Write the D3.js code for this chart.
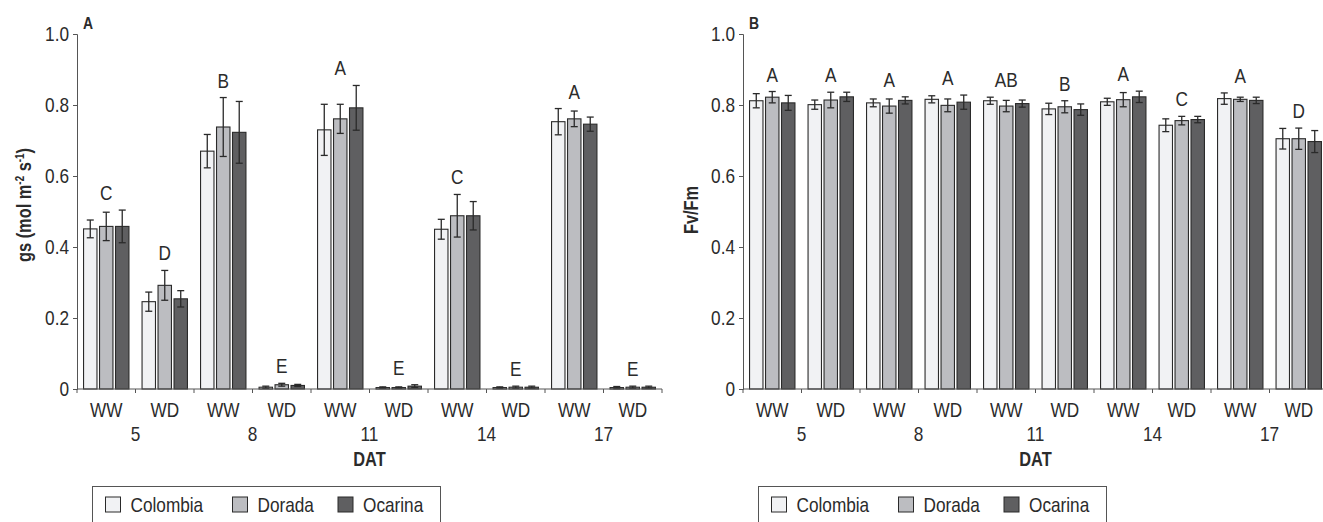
<!DOCTYPE html>
<html lang="en">
<head>
  <meta charset="UTF-8">
  <title>gs and Fv/Fm</title>
  <script src="https://d3js.org/d3.v7.min.js"></script>
  <style>
    body { margin: 0; background: #fff; }
    svg text { font-family: "Liberation Sans", Arial, sans-serif; fill: #2b2b2b; }
    .bold { font-weight: bold; }
  </style>
</head>
<body>
  <svg id="chart" width="1323" height="522"></svg>
  <script>
    // categories
    const days = [5, 8, 11, 14, 17];
    const treatments = ["WW", "WD"];
    const cultivars = ["Colombia", "Dorada", "Ocarina"];
    const yTicks = [0, 0.2, 0.4, 0.6, 0.8, 1.0];

    // panel A: gs (mol m-2 s-1), one value per day x treatment
    const gsColombia = [0.451, 0.246, 0.670, 0.005, 0.730, 0.004, 0.450, 0.004, 0.753, 0.004];
    const gsDorada   = [0.458, 0.292, 0.738, 0.012, 0.761, 0.004, 0.488, 0.005, 0.761, 0.005];
    const gsOcarina  = [0.458, 0.254, 0.723, 0.010, 0.792, 0.008, 0.488, 0.005, 0.746, 0.005];
    const gsErrColombia = [0.025, 0.027, 0.047, 0.003, 0.072, 0.002, 0.028, 0.002, 0.037, 0.003];
    const gsErrDorada   = [0.040, 0.042, 0.083, 0.004, 0.041, 0.002, 0.060, 0.003, 0.022, 0.003];
    const gsErrOcarina  = [0.046, 0.023, 0.087, 0.003, 0.063, 0.004, 0.040, 0.003, 0.020, 0.003];
    const gsLetters = ["C", "D", "B", "E", "A", "E", "C", "E", "A", "E"];

    // panel B: Fv/Fm
    const fvColombia = [0.812, 0.801, 0.806, 0.816, 0.812, 0.789, 0.809, 0.743, 0.818, 0.705];
    const fvDorada   = [0.822, 0.814, 0.797, 0.799, 0.797, 0.795, 0.815, 0.756, 0.816, 0.705];
    const fvOcarina  = [0.806, 0.823, 0.813, 0.808, 0.804, 0.787, 0.823, 0.759, 0.813, 0.697];
    const fvErrColombia = [0.020, 0.013, 0.011, 0.010, 0.010, 0.016, 0.010, 0.018, 0.016, 0.029];
    const fvErrDorada   = [0.016, 0.022, 0.020, 0.018, 0.016, 0.017, 0.020, 0.012, 0.006, 0.030];
    const fvErrOcarina  = [0.021, 0.013, 0.010, 0.020, 0.010, 0.016, 0.016, 0.009, 0.009, 0.031];
    const fvLetters = ["A", "A", "A", "A", "AB", "B", "A", "C", "A", "D"];

    const colors = { Colombia: "#f1f2f4", Dorada: "#bcbdc1", Ocarina: "#5f5f61" };
    const SX = 0.82; // narrow the glyphs, the original uses a condensed face

    // group keys like "5-WW"
    const groups = [];
    days.forEach(d => treatments.forEach(t => groups.push(d + "-" + t)));

    const svg = d3.select("#chart");
    const y = d3.scaleLinear().domain([0, 1]).range([389, 34]);

    // put text at (x, y) and squeeze it horizontally
    function place(sel, fx, fy) {
      const f = v => typeof v === "function" ? v : () => v;
      return sel.attr("transform", (d, i) => `translate(${f(fx)(d, i)},${f(fy)(d, i)}) scale(${SX},1)`);
    }

    function drawPanel(opt) {
      const g = svg.append("g");
      const x0 = d3.scaleBand().domain(groups).range([opt.left, opt.left + 585]);
      const x1 = d3.scaleBand().domain(cultivars).range([0, x0.bandwidth()])
        .paddingInner(0.16).paddingOuter(0.41);

      const rows = groups.map((key, i) => ({
        key,
        letter: opt.letters[i],
        bars: cultivars.map((c, j) => ({ c, v: opt.means[j][i], e: opt.errs[j][i] }))
      }));

      const grp = g.selectAll(".grp").data(rows).enter().append("g")
        .attr("transform", d => `translate(${x0(d.key)},0)`);

      grp.selectAll("rect").data(d => d.bars).enter().append("rect")
        .attr("x", d => x1(d.c))
        .attr("y", d => y(d.v))
        .attr("width", x1.bandwidth())
        .attr("height", d => y(0) - y(d.v))
        .attr("fill", d => colors[d.c])
        .attr("stroke", "#2a2a2a")
        .attr("stroke-width", 1.1);

      const err = grp.selectAll(".err").data(d => d.bars).enter().append("g")
        .attr("stroke", "#2a2a2a").attr("stroke-width", 1.3);
      const cx = d => x1(d.c) + x1.bandwidth() / 2;
      err.append("line").attr("x1", cx).attr("x2", cx)
        .attr("y1", d => y(d.v + d.e)).attr("y2", d => y(d.v - d.e));
      err.append("line").attr("x1", d => cx(d) - 3.5).attr("x2", d => cx(d) + 3.5)
        .attr("y1", d => y(d.v + d.e)).attr("y2", d => y(d.v + d.e));
      err.append("line").attr("x1", d => cx(d) - 3.5).attr("x2", d => cx(d) + 3.5)
        .attr("y1", d => y(d.v - d.e)).attr("y2", d => y(d.v - d.e));

      place(grp.append("text"), x0.bandwidth() / 2, d => y(d3.max(d.bars, b => b.v + b.e)) - 10)
        .attr("text-anchor", "middle")
        .attr("font-size", 21)
        .text(d => d.letter);

      // y axis
      const yAxis = g.append("g").attr("transform", `translate(${opt.left},0)`)
        .call(d3.axisLeft(y).tickValues(yTicks).tickSize(4).tickPadding(4)
          .tickFormat(v => v === 0 ? "0" : d3.format(".1f")(v)));
      yAxis.attr("font-family", null).attr("font-size", null);
      yAxis.selectAll("text").attr("font-size", 21).attr("x", 0)
        .attr("transform", `translate(-8,0) scale(${SX},1)`);
      yAxis.selectAll("path, line").attr("stroke", "#555");

      // x axis: ticks at group boundaries
      const xAxisG = g.append("g").attr("transform", `translate(0,${y(0)})`);
      xAxisG.append("line").attr("x1", opt.left).attr("x2", opt.left + 585)
        .attr("stroke", "#555");
      const bounds = groups.map(k => x0(k)).concat([opt.left + 585]);
      xAxisG.selectAll(".tk").data(bounds).enter().append("line")
        .attr("x1", d => d).attr("x2", d => d).attr("y1", 0).attr("y2", 4)
        .attr("stroke", "#555");

      place(g.selectAll(".trt").data(groups).enter().append("text"),
        d => x0(d) + x0.bandwidth() / 2, 417)
        .attr("text-anchor", "middle")
        .attr("font-size", 21)
        .text(d => d.split("-")[1]);

      place(g.selectAll(".day").data(days).enter().append("text"),
        d => x0(d + "-WD"), 441)
        .attr("text-anchor", "middle")
        .attr("font-size", 21)
        .text(d => d);

      place(g.append("text").attr("class", "bold"), opt.left + 292.5, 466)
        .attr("text-anchor", "middle").attr("font-size", 20)
        .text("DAT");

      place(g.append("text").attr("class", "bold"), opt.left + 6, 29)
        .attr("font-size", 17)
        .text(opt.panel);

      const yl = g.append("text").attr("class", "bold")
        .attr("transform", `translate(${opt.ylabX},${opt.ylabY}) rotate(-90) scale(${SX},1)`)
        .attr("text-anchor", "middle").attr("font-size", 20);
      opt.ylabel(yl);

      // legend
      const lg = g.append("g").attr("transform", `translate(${opt.left + 15.5},486.5)`);
      lg.append("rect").attr("width", 348).attr("height", 60)
        .attr("fill", "none").attr("stroke", "#555");
      const offs = [13, 140, 245.5];
      const item = lg.selectAll(".it").data(cultivars).enter().append("g")
        .attr("transform", (d, i) => `translate(${offs[i]},10.5)`);
      item.append("rect").attr("width", 15).attr("height", 15)
        .attr("fill", d => colors[d]).attr("stroke", "#2a2a2a");
      place(item.append("text"), 25, 15).attr("font-size", 21).text(d => d);
    }

    drawPanel({
      left: 77, panel: "A",
      means: [gsColombia, gsDorada, gsOcarina],
      errs: [gsErrColombia, gsErrDorada, gsErrOcarina],
      letters: gsLetters,
      ylabX: 31, ylabY: 205,
      ylabel: t => {
        t.append("tspan").text("gs (mol m");
        t.append("tspan").attr("dy", -7).attr("font-size", 12).text("-2");
        t.append("tspan").attr("dy", 7).text(" s");
        t.append("tspan").attr("dy", -7).attr("font-size", 12).text("-1");
        t.append("tspan").attr("dy", 7).text(")");
      }
    });

    drawPanel({
      left: 743, panel: "B",
      means: [fvColombia, fvDorada, fvOcarina],
      errs: [fvErrColombia, fvErrDorada, fvErrOcarina],
      letters: fvLetters,
      ylabX: 698, ylabY: 210,
      ylabel: t => t.text("Fv/Fm")
    });
  </script>
</body>
</html>
